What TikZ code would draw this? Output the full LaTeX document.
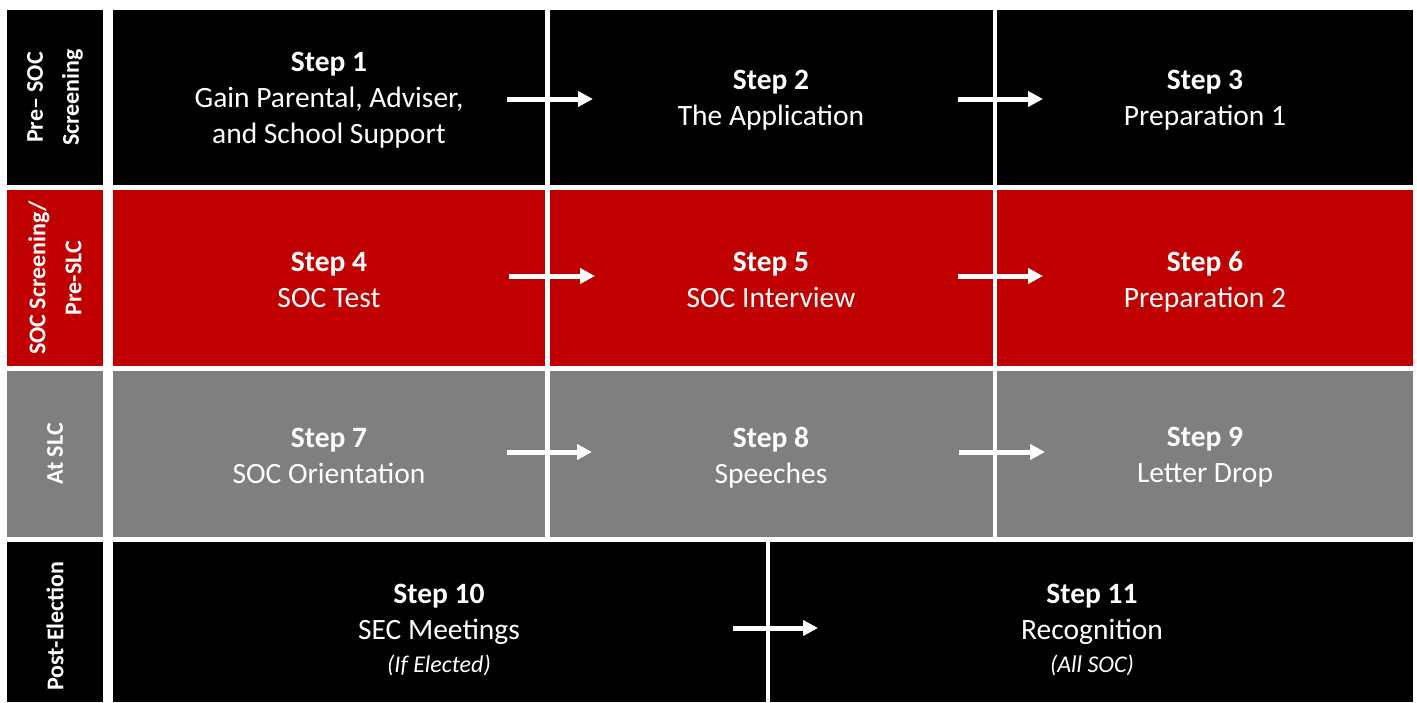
\documentclass[tikz,border=0pt]{standalone}
\usepackage{fontspec}
\setmainfont{Carlito}
\usetikzlibrary{arrows.meta,calc}
\definecolor{myred}{HTML}{C00000}
\definecolor{mygray}{HTML}{7F7F7F}
\tikzset{
  cell/.style={anchor=north west, inner sep=0pt, outer sep=0pt, draw=none},
  rowlabel/.style={rotate=90, align=center, text=white, inner sep=0pt,
    font=\fontsize{24}{36}\selectfont\bfseries},
  steptext/.style={align=center, text=white, inner sep=0pt,
    font=\fontsize{29.5}{36}\selectfont},
  arr/.style={draw=white, line width=5pt, -{Triangle[length=15pt,width=15pt]}}
}
\newcommand{\smallit}[1]{{\fontsize{24}{30}\selectfont\itshape #1}}
\begin{document}
\begin{tikzpicture}[x=1pt,y=-1pt]
\useasboundingbox[fill=white] (0,0) rectangle (1417,702);
% row labels
\node[cell, fill=black,   minimum width=96pt, minimum height=175pt] (l1) at (7,10) {};
\node[cell, fill=myred,   minimum width=96pt, minimum height=176pt] (l2) at (7,190) {};
\node[cell, fill=mygray,  minimum width=96pt, minimum height=166pt] (l3) at (7,371) {};
\node[cell, fill=black,   minimum width=96pt, minimum height=160pt] (l4) at (7,542) {};
\node[rowlabel] (lt1) at (l1.center) {Pre– SOC\\Screening};
\node[rowlabel] (lt2) at (l2.center) {SOC Screening/\\Pre-SLC};
\node[rowlabel] (lt3) at (l3.center) {At SLC};
\node[rowlabel] (lt4) at ($(l4.center)+(0,4)$) {Post-Election};
% row 1
\node[cell, fill=black, minimum width=432pt, minimum height=175pt] (c1) at (113,10) {};
\node[cell, fill=black, minimum width=443pt, minimum height=175pt] (c2) at (550,10) {};
\node[cell, fill=black, minimum width=416pt, minimum height=175pt] (c3) at (997,10) {};
% row 2
\node[cell, fill=myred, minimum width=432pt, minimum height=176pt] (c4) at (113,190) {};
\node[cell, fill=myred, minimum width=443pt, minimum height=176pt] (c5) at (550,190) {};
\node[cell, fill=myred, minimum width=416pt, minimum height=176pt] (c6) at (997,190) {};
% row 3
\node[cell, fill=mygray, minimum width=432pt, minimum height=166pt] (c7) at (113,371) {};
\node[cell, fill=mygray, minimum width=443pt, minimum height=166pt] (c8) at (550,371) {};
\node[cell, fill=mygray, minimum width=416pt, minimum height=166pt] (c9) at (997,371) {};
% row 4
\node[cell, fill=black, minimum width=653pt, minimum height=160pt] (c10) at (113,542) {};
\node[cell, fill=black, minimum width=643pt, minimum height=160pt] (c11) at (770,542) {};
% texts
\node[steptext] (t1) at (329,100) {\textbf{Step 1}\\Gain Parental, Adviser,\\and School Support};
\node[steptext] (t2) at (771,100.5) {\textbf{Step 2}\\The Application};
\node[steptext] (t3) at (1205,100.5) {\textbf{Step 3}\\Preparation 1};
\node[steptext] (t4) at (329,279.5) {\textbf{Step 4}\\SOC Test};
\node[steptext] (t5) at (771,279.5) {\textbf{Step 5}\\SOC Interview};
\node[steptext] (t6) at (1205,281.5) {\textbf{Step 6}\\Preparation 2};
\node[steptext] (t7) at (329,455.5) {\textbf{Step 7}\\SOC Orientation};
\node[steptext] (t8) at (771,457.5) {\textbf{Step 8}\\Speeches};
\node[steptext] (t9) at (1205,457.5) {\textbf{Step 9}\\Letter Drop};
\node[steptext] (t10) at (439,629.5) {\textbf{Step 10}\\SEC Meetings\\[-3pt]\smallit{(If Elected)}};
\node[steptext] (t11) at (1092,629.5) {\textbf{Step 11}\\Recognition\\[-3pt]\smallit{(All SOC)}};
% arrows
\draw[arr] ($(c1.east)+(-38,1.5)$) -- ($(c2.west)+(43,1.5)$);
\draw[arr] ($(c2.east)+(-35,1.5)$) -- ($(c3.west)+(46,1.5)$);
\draw[arr] ($(c4.east)+(-36,-2)$) -- ($(c5.west)+(45,-2)$);
\draw[arr] ($(c5.east)+(-35,-2)$) -- ($(c6.west)+(46,-2)$);
\draw[arr] ($(c7.east)+(-38,-2)$) -- ($(c8.west)+(42,-2)$);
\draw[arr] ($(c8.east)+(-34,-2)$) -- ($(c9.west)+(48,-2)$);
\draw[arr] ($(c10.east)+(-33,6)$) -- ($(c11.west)+(48,6)$);
\end{tikzpicture}
\end{document}
